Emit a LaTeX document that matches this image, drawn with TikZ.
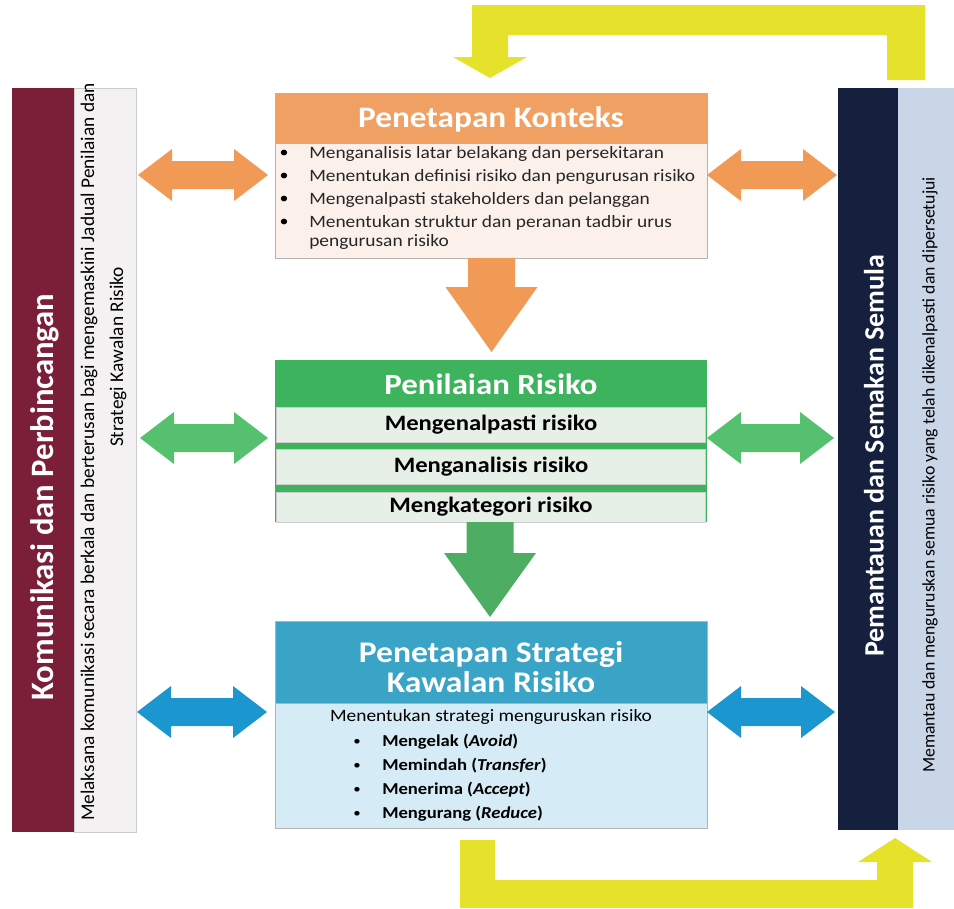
\documentclass[tikz,border=0pt]{standalone}
\usepackage{fontspec}
\setmainfont{Carlito}[FakeStretch=1.12]
\newfontfamily\sidefont{Carlito}
\usetikzlibrary{calc}
\definecolor{orhead}{HTML}{F0A062}
\definecolor{orbody}{HTML}{FBF1EA}
\definecolor{orarr}{HTML}{F09A55}
\definecolor{grhead}{HTML}{3DB35E}
\definecolor{grrow}{HTML}{E6F0E6}
\definecolor{grarr}{HTML}{55C06E}
\definecolor{blhead}{HTML}{3AA4C6}
\definecolor{blbody}{HTML}{D5ECF7}
\definecolor{blarr}{HTML}{1C96CF}
\definecolor{maroon}{HTML}{7B1F38}
\definecolor{leftlight}{HTML}{F3F1F1}
\definecolor{navy}{HTML}{15203E}
\definecolor{rightlight}{HTML}{C9D6E8}
\definecolor{yel}{HTML}{E6E12B}
\newcommand\dblarr[4]{%
  \fill[#4] (#1,#3) -- ({#1+34},{#3-26}) -- ({#1+34},{#3-14}) -- ({#2-34},{#3-14}) -- ({#2-34},{#3-26}) -- (#2,#3) -- ({#2-34},{#3+26}) -- ({#2-34},{#3+14}) -- ({#1+34},{#3+14}) -- ({#1+34},{#3+26}) -- cycle;}
\newcommand\downarr[5]{%
  \fill[#5] ({#1-23.5},#2) -- ({#1+23.5},#2) -- ({#1+23.5},#3) -- ({#1+46},#3) -- (#1,#4) -- ({#1-46},#3) -- ({#1-23.5},#3) -- cycle;}
\begin{document}
\begin{tikzpicture}[x=0.75pt,y=-0.75pt,
  box/.style={rectangle, inner sep=0pt, minimum width=324pt, draw=gray!60, line width=0.6pt},
  hdtext/.style={text=white, font=\bfseries},
  bul/.style={anchor=center, inner sep=0pt},
  ln/.style={anchor=west, inner sep=0pt}]
\useasboundingbox (0,0) rectangle (954,908);
\fill[white] (0,0) rectangle (954,908);

% yellow loop arrows
\fill[yel] (925,5) -- (925,80) -- (887,80) -- (887,35) -- (508,35) -- (508,57) -- (527,57) -- (490,78) -- (453,57) -- (472,57) -- (472,5) -- cycle;
\fill[yel] (460,840) -- (495,840) -- (495,880) -- (877,880) -- (877,862) -- (858,862) -- (895,838) -- (932,862) -- (913,862) -- (913,908) -- (460,908) -- cycle;

% side bars
\node[rectangle, inner sep=0pt, fill=maroon, minimum width=46.5pt, minimum height=558pt] (leftbar) at (43,460) {};
\node[rectangle, inner sep=0pt, fill=leftlight, draw=gray!40, minimum width=46.5pt, minimum height=558pt] (leftsub) at (105,460) {};
\node[rectangle, inner sep=0pt, fill=navy, minimum width=45pt, minimum height=556.5pt] (rightbar) at (868,459) {};
\node[rectangle, inner sep=0pt, fill=rightlight, minimum width=42pt, minimum height=556.5pt] (rightsub) at (926,459) {};

\node[rotate=90, text=white, font=\sidefont\bfseries\fontsize{24.5}{26}\selectfont] (lefttitle) at (45,497) {Komunikasi dan Perbincangan};
\node[rotate=90, font=\sidefont\fontsize{14.5}{16}\selectfont, inner sep=0pt] (leftl1) at (89,452) {Melaksana komunikasi secara berkala dan berterusan bagi mengemaskini Jadual Penilaian dan};
\node[rotate=90, font=\sidefont\fontsize{14.5}{16}\selectfont, inner sep=0pt] (leftl2) at (118,357) {Strategi Kawalan Risiko};
\node[rotate=90, text=white, font=\sidefont\bfseries\fontsize{21}{23}\selectfont] (righttitle) at (874,456) {Pemantauan dan Semakan Semula};
\node[rotate=90, font=\sidefont\fontsize{13.3}{15}\selectfont, inner sep=0pt] (rightl1) at (930,475) {Memantau dan menguruskan semua risiko yang telah dikenalpasti dan dipersetujui};

% Penetapan Konteks
\node[box, fill=orhead, minimum height=37.5pt] (ctxhead) at (491,118) {};
\node[hdtext, font=\bfseries\fontsize{22.3}{24}\selectfont, text=white] (ctxtitle) at (491,119) {Penetapan Konteks};
\node[box, fill=orbody, minimum height=86.25pt] (ctxbody) at (491,200.5) {};
\foreach \y/\t [count=\i] in {154/{Menganalisis latar belakang dan persekitaran},177/{Menentukan definisi risiko dan pengurusan risiko},200/{Mengenalpasti stakeholders dan pelanggan},223/{Menentukan struktur dan peranan tadbir urus}}{
  \node[bul, font=\fontsize{12}{14}\selectfont] (cb\i) at (284,\y) {\textbullet};
  \node[ln, font=\fontsize{13}{15}\selectfont, text=black!85] (ct\i) at (309,\y) {\t};
}
\node[ln, font=\fontsize{13}{15}\selectfont, text=black!85] (ct5) at (309,242) {pengurusan risiko};

% Penilaian Risiko
\node[box, fill=grhead, minimum height=121.5pt, draw=none] (pnblock) at (491,441) {};
\node[hdtext, font=\bfseries\fontsize{22}{24}\selectfont] (pntitle) at (491,384) {Penilaian Risiko};
\node[box, fill=grrow, minimum height=26.25pt, minimum width=322pt, draw=gray!40] (row1) at (491,425) {};
\node[box, fill=grrow, minimum height=26.25pt, minimum width=322pt, draw=gray!40] (row2) at (491,466.5) {};
\node[box, fill=grrow, minimum height=22.5pt, minimum width=322pt, draw=gray!40] (row3) at (491,507) {};
\node[font=\bfseries\fontsize{16.5}{18}\selectfont] at (row1) {Mengenalpasti risiko};
\node[font=\bfseries\fontsize{16.5}{18}\selectfont] at (row2) {Menganalisis risiko};
\node[font=\bfseries\fontsize{16.5}{18}\selectfont] at (row3) {Mengkategori risiko};

% Penetapan Strategi
\node[box, fill=blhead, minimum height=61.5pt] (sthead) at (491,662) {};
\node[hdtext, align=center, font=\bfseries\fontsize{22.5}{22}\selectfont] (sttitle) at (491,667) {Penetapan Strategi\\Kawalan Risiko};
\node[box, fill=blbody, minimum height=93.75pt] (stbody) at (491,765.5) {};
\node[font=\fontsize{13}{15}\selectfont, inner sep=0pt] (stintro) at (491,717) {Menentukan strategi menguruskan risiko};
\foreach \y/\a/\b [count=\i] in {742/Mengelak/Avoid,766/Memindah/Transfer,790/Menerima/Accept,814/Mengurang/Reduce}{
  \node[bul, font=\fontsize{10}{12}\selectfont] (sb\i) at (357,\y) {\textbullet};
  \node[ln, font=\bfseries\fontsize{12.5}{14}\selectfont] (st\i) at (382,\y) {\a{} (\textit{\b})};
}

% down arrows
\downarr{491.5}{258}{287}{352}{orarr}
\downarr{490}{522}{553}{617}{grarr!90!black}

% side arrows
\dblarr{138}{268}{175}{orarr}
\dblarr{707}{837}{175}{orarr}
\dblarr{140}{268}{438}{grarr}
\dblarr{707}{834}{438}{grarr}
\dblarr{137}{267}{712}{blarr}
\dblarr{707}{835}{712}{blarr}
\end{tikzpicture}
\end{document}
